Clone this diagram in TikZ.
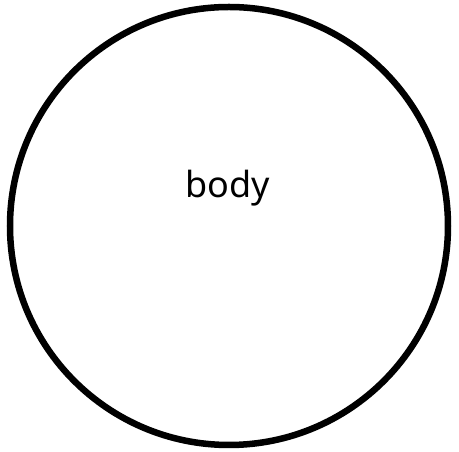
\documentclass[tikz,border=0pt]{standalone}
\usepackage{fontspec}
\setmainfont{Noto Sans}
\begin{document}
\begin{tikzpicture}[x=1pt,y=1pt,
  ring/.style={draw=black,line width=6.5pt,circle,minimum size=438pt,inner sep=0pt},
  label/.style={font=\fontsize{36}{40}\selectfont,inner sep=0pt,anchor=base}]
\useasboundingbox (0,0) rectangle (459,452);
\node[ring] (body) at (229,226) {};
\node[label] (bodytext) at (228,254) {body};
\end{tikzpicture}
\end{document}
